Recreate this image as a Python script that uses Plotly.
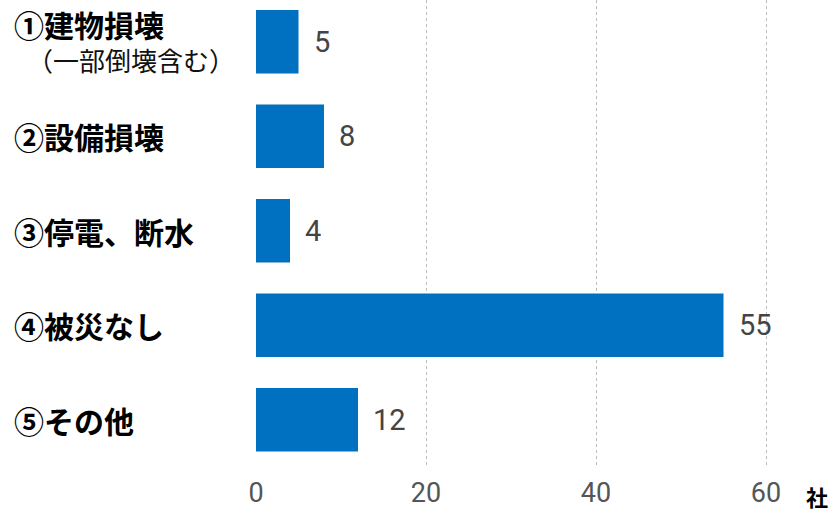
import plotly.graph_objects as go

categories = ["①建物損壊", "②設備損壊", "③停電、断水", "④被災なし", "⑤その他"]
sub_labels = ["（一部倒壊含む）", "", "", "", ""]
values = [5, 8, 4, 55, 12]
x_ticks = [0, 20, 40, 60]
unit = "社"

BAR_COLOR = "#0070C0"
CJK = "Noto Sans CJK JP"
NUM = "Roboto, sans-serif"

fig = go.Figure()
fig.add_trace(go.Bar(
    x=values,
    y=list(range(len(categories))),
    orientation="h",
    marker=dict(color=BAR_COLOR, line=dict(width=0)),
    width=0.67,
    hoverinfo="skip",
))

annotations = []
for i, (c, s, v) in enumerate(zip(categories, sub_labels, values)):
    if s:
        txt = ("<b><span style='font-size:30px;color:#000000'>" + c + "</span></b><br>"
               "\u2002" + s)
        annotations.append(dict(x=-0.4485, xref="paper", y=i, yref="y", text=txt,
                                showarrow=False, xanchor="left", yanchor="middle", align="left",
                                yshift=2,
                                font=dict(family=CJK, size=26, color="#111111")))
    else:
        annotations.append(dict(x=-0.4485, xref="paper", y=i, yref="y", text=c,
                                showarrow=False, xanchor="left", yanchor="middle",
                                font=dict(family=CJK, size=30, color="#000000", weight="bold")))
    annotations.append(dict(x=v, xref="x", y=i, yref="y", text=str(v),
                            showarrow=False, xanchor="left", yanchor="middle", xshift=13,
                            font=dict(family=NUM, size=29, color="#444444")))

annotations.append(dict(x=1.0, xref="paper", y=0, yref="paper", text=unit,
                        showarrow=False, xanchor="right", yanchor="middle", yshift=-29, xshift=30,
                        font=dict(family=CJK, size=22, color="#000000", weight="bold")))

fig.update_layout(
    width=836, height=513,
    margin=dict(l=256, r=36, t=0, b=46),
    plot_bgcolor="white", paper_bgcolor="white",
    showlegend=False,
    annotations=annotations,
    xaxis=dict(
        range=[0, 64], tickvals=x_ticks, ticktext=[str(t) for t in x_ticks],
        showgrid=True, gridcolor="#BBBBBB", griddash="dot", gridwidth=1,
        zeroline=False, showline=False, automargin=False,
        ticks="outside", ticklen=2, tickcolor="rgba(0,0,0,0)",
        tickfont=dict(family=NUM, size=27, color="#555555"),
    ),
    yaxis=dict(
        range=[4.5, -0.442], showticklabels=False, showgrid=False, zeroline=False,
        showline=False, automargin=False,
    ),
)

fig.write_html("out.html")
